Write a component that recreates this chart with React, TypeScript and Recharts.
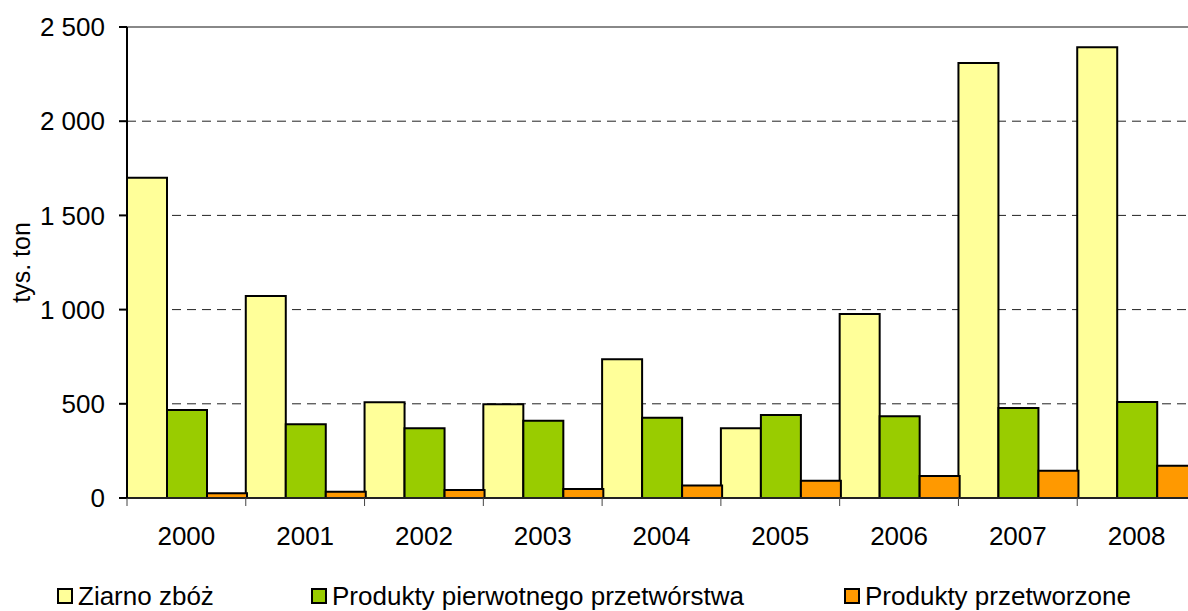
import React from "react";
import {
  BarChart,
  Bar,
  XAxis,
  YAxis,
  CartesianGrid,
  ReferenceLine,
} from "recharts";

const YEARS = ["2000", "2001", "2002", "2003", "2004", "2005", "2006", "2007", "2008"];
const ZIARNO = [1700, 1072, 508, 497, 736, 370, 977, 2309, 2392];
const PIERWOTNE = [467, 391, 370, 410, 426, 440, 434, 478, 510];
const PRZETWORZONE = [25, 33, 42, 48, 67, 92, 117, 145, 171];
const Y_TICKS = [0, 500, 1000, 1500, 2000, 2500];

const SERIES = [
  { key: "ziarno", name: "Ziarno zbóż", color: "#FFFF99", legendLeft: 57 },
  { key: "pierwotne", name: "Produkty pierwotnego przetwórstwa", color: "#99CC00", legendLeft: 311 },
  { key: "przetworzone", name: "Produkty przetworzone", color: "#FF9900", legendLeft: 844 },
];

const data = YEARS.map((year, i) => ({
  year,
  ziarno: ZIARNO[i],
  pierwotne: PIERWOTNE[i],
  przetworzone: PRZETWORZONE[i],
}));

const FONT = "'Liberation Sans', Arial, sans-serif";
const CHART_W = 1200;
const CHART_H = 611;
const MARGIN = { top: 27, right: 4, left: 0, bottom: 63 };
const Y_AXIS_W = 127;

// thousands separated with a space, Polish style
const fmt = (v: number) => String(v).replace(/\B(?=(\d{3})+(?!\d))/g, " ");

const bandWidth = (CHART_W - MARGIN.left - MARGIN.right - Y_AXIS_W) / YEARS.length;

// label in the middle of the band, tick mark on the band's left edge
const YearTick = (props: any) => {
  const { x, y, payload, index } = props;
  const left = x - bandWidth / 2;
  const axisY = y - 8;
  return (
    <g>
      <line x1={left} y1={axisY} x2={left} y2={axisY + 8} stroke="#444" strokeWidth={1} />
      {index === YEARS.length - 1 && (
        <line x1={left + bandWidth} y1={axisY} x2={left + bandWidth} y2={axisY + 8} stroke="#444" strokeWidth={1} />
      )}
      <text
        x={x}
        y={axisY + 38}
        textAnchor="middle"
        dominantBaseline="central"
        fontFamily={FONT}
        fontSize={26}
        fill="#000"
      >
        {payload.value}
      </text>
    </g>
  );
};

export default function App() {
  return (
    <div
      style={{
        position: "absolute",
        left: 0,
        top: 0,
        width: 1188,
        height: 611,
        overflow: "hidden",
        background: "#fff",
        fontFamily: FONT,
      }}
    >
      <BarChart
        width={CHART_W}
        height={CHART_H}
        data={data}
        margin={MARGIN}
        barCategoryGap={0}
        barGap={0}
      >
        <CartesianGrid
          vertical={false}
          stroke="#222"
          strokeDasharray="9 6"
        />
        <ReferenceLine y={2500} stroke="#888" strokeWidth={2} />
        <XAxis
          dataKey="year"
          height={50}
          tickLine={false}
          axisLine={{ stroke: "#444", strokeWidth: 1 }}
          tick={<YearTick />}
          interval={0}
        />
        <YAxis
          width={Y_AXIS_W}
          domain={[0, 2500]}
          ticks={Y_TICKS}
          tickFormatter={fmt}
          tickSize={8}
          tickMargin={14}
          axisLine={{ stroke: "#000", strokeWidth: 2 }}
          tickLine={{ stroke: "#000", strokeWidth: 2 }}
          tick={{ fontSize: 26, fill: "#000", fontFamily: FONT }}
          label={{
            value: "tys. ton",
            angle: -90,
            position: "insideLeft",
            offset: 21,
            style: { fontSize: 25, fill: "#000", fontFamily: FONT, textAnchor: "middle" },
          }}
        />
        {SERIES.map((s) => (
          <Bar
            key={s.key}
            dataKey={s.key}
            name={s.name}
            fill={s.color}
            stroke="#000"
            strokeWidth={2}
            isAnimationActive={false}
          />
        ))}
      </BarChart>
      {SERIES.map((s) => (
        <div
          key={s.key}
          style={{
            position: "absolute",
            left: s.legendLeft,
            top: 582,
            height: 28,
            display: "flex",
            alignItems: "center",
            fontSize: 26,
            color: "#000",
            whiteSpace: "nowrap",
          }}
        >
          <span
            style={{
              display: "inline-block",
              width: 12,
              height: 12,
              background: s.color,
              border: "2px solid #000",
              marginRight: 5,
            }}
          />
          {s.name}
        </div>
      ))}
    </div>
  );
}
